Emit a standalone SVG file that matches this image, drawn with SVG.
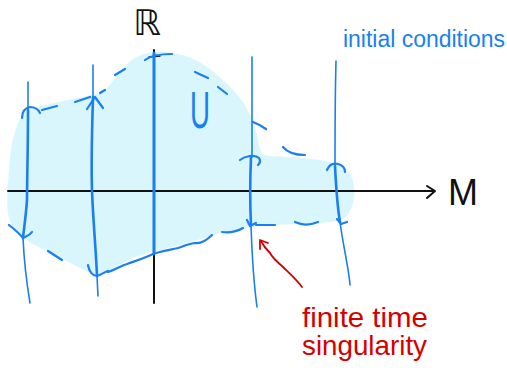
<svg xmlns="http://www.w3.org/2000/svg" width="507" height="380" viewBox="0 0 507 380">
<style>
.b{fill:none;stroke:#1a7ff0;stroke-linecap:round;stroke-linejoin:round}
.t{stroke-width:1.6}
.k{stroke-width:2.6}
.d{stroke-width:2.2}
.blk{fill:none;stroke:#111;stroke-width:2;stroke-linecap:round;stroke-linejoin:round}
.red{fill:none;stroke:#d40000;stroke-width:1.8;stroke-linecap:round;stroke-linejoin:round}
</style>
<rect width="507" height="380" fill="#fff"/>
<g id="region">
<path fill="#d9f6fd" d="M12,143 C18,118 24,108 40,106 C60,102 85,96 100,93 C110,88 112,80 125,66 C135,56 145,52 160,52 C185,52 205,62 225,82 C245,100 255,120 258,140 C260,152 262,156 270,156 C300,157 330,160 342,166 C358,175 358,205 345,218 C335,224 300,224 265,225 C245,228 225,232 210,236 C185,244 160,250 140,255 C125,260 115,270 98,275 C80,270 70,262 55,255 C35,246 20,238 12,225 C6,215 7,200 8,185 C9,170 10,155 12,143 Z"/>
</g>
<g id="axes">
<path class="blk" d="M8,191 L434,191"/>
<path class="blk" d="M427,186 L435,191 L427,198"/>
<path class="blk" d="M154,50 L154,303"/>
<path class="blk" d="M149,57 L160,56" style="stroke-width:1.3"/>
</g>
<g id="connectors">
<path class="b t" d="M28,82 L28,110"/>
<path class="b k" d="M28,110 C28,150 27,180 27,200 C26,215 24,228 23,238"/>
<path class="b t" d="M23,238 C24,260 27,285 30,303"/>
<path class="b d" d="M22,118 C22,112 25,108 30,107 C35,107 38,109 40,113"/>
<path class="b d" d="M9,225 C14,229 18,232 23,238 C27,236 30,235 32,232"/>
<path class="b t" d="M93,65 L93,97"/>
<path class="b k" d="M93,97 C92,130 91,160 92,190 C93,220 96,250 97,276"/>
<path class="b t" d="M97,276 L98,296"/>
<path class="b d" d="M87,109 L95,97 L103,108"/>
<path class="b d" d="M88,265 C89,272 93,276 97,276 C102,274 105,272 108,271"/>
<path class="b k" style="stroke-width:3" d="M154,53 L154,253"/>
<path class="b d" d="M145,60 C150,56 158,54 172,54"/>
<path class="b t" d="M252,57 L252,157"/>
<path class="b k" d="M251,157 C250,180 250,205 251,225"/>
<path class="b t" d="M251,225 C252,255 254,285 257,307"/>
<path class="b d" d="M240,160 C245,156 255,154 259,158 C261,161 260,163 258,165"/>
<path class="b d" d="M247,220 L250,226 L256,223"/>
<path class="b t" d="M336,61 C335,100 335,140 335,166"/>
<path class="b k" d="M335,166 C336,185 337,205 340,222"/>
<path class="b t" d="M340,222 C343,245 349,270 350,285"/>
<path class="b d" d="M327,170 C329,165 333,163 338,164 C342,165 345,168 345,172"/>
<path class="b d" d="M337,219 L341,224 L347,222"/>
<path class="b d" d="M42,110 L57,106"/>
<path class="b d" d="M75,102 L90,97"/>
<path class="b d" d="M100,93 L105,90"/>
<path class="b d" d="M115,75 L125,69"/>
<path class="b d" d="M195,72 L208,78"/>
<path class="b d" d="M218,87 L227,94"/>
<path class="b d" d="M253,122 C258,124 262,126 266,129"/>
<path class="b d" d="M283,147 C287,152 295,155 305,155"/>
<path class="b d" d="M48,251 L62,260"/>
<path class="b d" d="M108,272 C115,270 120,266 127,264 C135,261 145,258 153,254 C162,251 170,250 178,248 C185,246 190,243 195,243 C202,244 207,240 212,235"/>
<path class="b d" d="M222,232 C230,233 238,231 243,228"/>
<path class="b d" d="M256,225 L275,225"/>
<path class="b d" d="M295,222 C302,225 308,226 318,222"/>
</g>
<g id="labels">
<text x="147" y="35" font-family="DejaVu Sans, sans-serif" font-size="35" fill="#111" text-anchor="middle">ℝ</text>
<text x="448" y="205" font-family="Liberation Sans, sans-serif" font-size="36" fill="#111" textLength="30" lengthAdjust="spacingAndGlyphs">M</text>
<text x="200" y="128" font-family="Liberation Sans, sans-serif" font-size="52" fill="#1a7ff0" text-anchor="middle" textLength="20" lengthAdjust="spacingAndGlyphs">U</text>
<text x="343" y="47" font-family="Liberation Sans, sans-serif" font-size="23" fill="#1a7ff0" textLength="162" lengthAdjust="spacingAndGlyphs">initial conditions</text>
<text x="302" y="327" font-family="Liberation Sans, sans-serif" font-size="28" fill="#d40000" textLength="126" lengthAdjust="spacingAndGlyphs">finite time</text>
<text x="302" y="355" font-family="Liberation Sans, sans-serif" font-size="28" fill="#d40000" textLength="125" lengthAdjust="spacingAndGlyphs">singularity</text>
</g>
<g id="pointer">
<path class="red" d="M302,287 C295,278 288,272 283,267 C276,261 272,257 270,253 C266,249 263,245 261,241"/>
<path class="red" d="M260,249 L260,240 L268,243"/>
</g>
</svg>
